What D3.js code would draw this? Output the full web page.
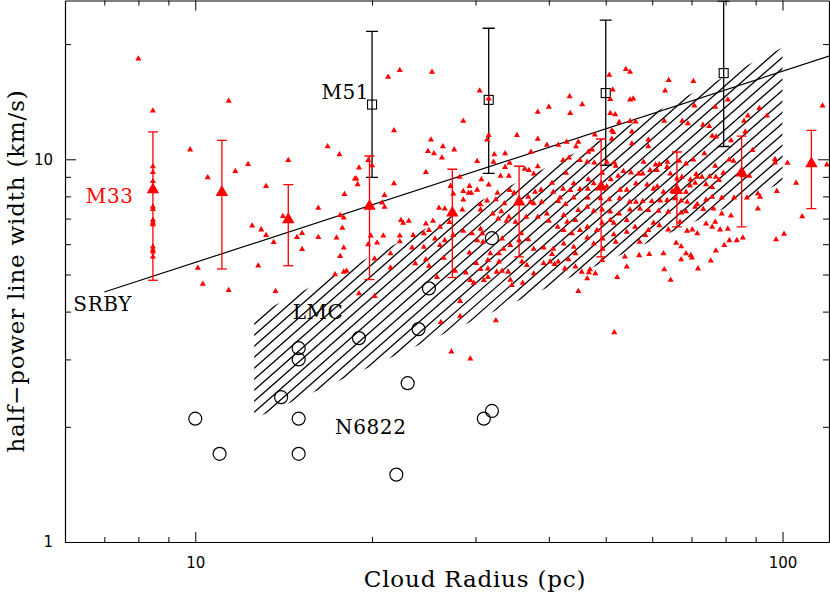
<!DOCTYPE html>
<html>
<head>
<meta charset="utf-8">
<script src="https://cdn.jsdelivr.net/npm/d3@7"></script>
<style>
	body { margin: 0; background: #fff; }
	svg { display: block; }
</style>
</head>
<body>
<div id="chart"></div>
<script>
// M33 GMCs: [radius (pc), half-power line width (km/s)]
const m33Clouds = [
	[8.0,18.3],[11.4,14.2],[9.8,10.6],[12.3,9.7],[11.7,9.3],[10.5,8.96],[13.2,8.5],[14.4,9.95],[14.1,7.1],[12.5,6.7],
	[12.95,6.55],[13.2,6.33],[13.6,6.07],[14.9,6.26],[15.2,6.41],[15.2,5.82],[16.2,6.26],[16.2,7.46],[10.1,5.2],[12.8,5.27],
	[10.3,4.72],[11.4,4.55],[13.7,4.52],
	[8.47,13.4],[8.47,9.58],[8.47,9.25],[8.47,8.76],[8.47,7.52],[8.47,7.4],[8.47,6.94],[8.47,6.83],[8.47,6.76],[8.47,5.91],
	[8.47,5.80],[8.47,5.73],[8.47,5.56],
	[22.3,17.1],[25.3,16.9],[21.3,16.4],[30.5,15.1],[31.6,14.4],[28.6,12.6],[21.8,11.9],[38.3,13.3],[40.0,13.7],[35.3,11.55],
	[31.6,11.55],[31.4,11.25],[25.2,11.25],[38.3,11.3],[16.8,10.8],[17.6,10.3],[24.9,10.5],[25.5,10.35],[26.4,10.8],[26.3,10.1],
	[27.6,10.6],[32.3,10.3],[33.7,10.35],[37.3,10.45],[39.7,10.9],[41.5,10.9],[19.7,9.94],[20.0,9.64],[19.0,9.5],[24.7,9.25],
	[30.2,9.88],[32.2,9.84],[34.3,9.78],[33.7,9.54],[33.1,9.04],[34.2,9.04],[36.4,9.44],[37.0,9.36],[38.3,9.58],[37.7,9.17],
	[18.7,8.9],[18.8,8.9],[18.9,8.6],[21.8,8.64],[28.2,8.99],[30.7,8.85],[31.6,8.58],[27.2,8.51],[28.6,8.25],[29.3,8.51],
	[29.2,8.17],[29.5,8.17],[30.2,8.32],[27.5,8.13],[17.95,8.1],[21.0,8.05],[28.6,7.84],[32.7,8.17],[32.5,7.85],[33.6,7.66],
	[31.4,7.79],[30.6,7.62],[34.3,8.3],[34.9,8.17],[37.2,7.74],[36.9,7.97],[37.7,7.66],[37.9,8.22],[38.8,8.32],[38.9,7.74],
	[40.5,8.67],[40.7,8.22],[41.5,7.77],[20.8,7.7],[21.0,7.51],[17.65,7.14],[17.9,7.04],[26.0,7.46],[26.6,7.43],[28.5,7.38],
	[30.6,7.38],[32.1,7.21],[33.2,7.31],[34.2,7.07],[32.8,6.99],[33.9,6.9],[35.1,6.86],[36.6,7.07],[38.3,7.07],[39.7,7.21],
	[40.0,6.9],[41.4,6.65],[22.4,6.93],[22.6,6.82],[23.1,6.9],[25.4,6.9],[24.7,6.79],[26.1,6.65],[25.0,6.53],[27.1,6.85],
	[17.8,6.61],[17.4,6.24],[19.9,6.31],[20.9,6.31],[22.3,6.31],[22.3,6.1],[23.5,6.33],[24.5,6.4],[25.6,6.2],[26.6,6.14],
	[27.5,6.33],[28.6,6.5],[29.6,6.4],[30.6,6.58],[30.8,6.4],[30.2,6.14],[30.9,6.08],[33.3,6.2],[34.4,5.96],[35.9,6.4],
	[35.6,6.14],[36.9,6.17],[37.7,5.83],[39.2,5.87],[40.7,5.83],[17.9,5.87],[19.7,5.99],[20.4,6.05],[23.4,5.87],[24.5,5.9],
	[26.1,5.96],[17.65,5.58],[20.2,5.5],[21.5,5.67],[26.5,5.52],[25.0,5.26],[23.7,5.34],[29.3,5.7],[31.8,5.67],[32.9,5.67],
	[33.5,5.83],[36.0,5.4],[36.7,5.29],[39.2,5.35],[40.2,5.4],[31.5,5.45],[30.1,5.35],[31.5,5.18],[32.6,5.08],[34.1,5.08],
	[37.7,5.03],[21.5,5.21],[27.7,5.11],[28.9,5.05],[17.3,5.0],[17.9,5.08],[18.1,5.11],[29.4,4.83],[29.8,4.75],[31.0,4.83],
	[31.5,4.92],[34.6,4.69],[36.1,4.75],[25.8,4.92],[19.0,4.46],[20.2,4.39],
	[24.7,5.47],[28.25,4.26],[28.25,3.89],[26.2,3.75],[32.5,3.79],[27.3,3.14],[29.4,3.01],[34.4,4.84],[40.5,5.65],[40.9,5.32],
	[41.5,5.4],[30.6,5.16],[33.3,5.11],[32.9,5.4],
	[54.1,17.2],[55.0,16.9],[50.7,16.6],[64.0,16.1],[70.5,16.0],[43.4,14.6],[51.4,15.2],[63.1,15.1],[50.9,14.35],[55.0,14.3],
	[55.7,14.4],[45.6,13.9],[80.7,14.3],[43.5,13.2],[70.8,13.8],[76.8,13.7],[91.3,13.6],[117,13.8],[50.9,13.2],[51.9,13.1],
	[62.9,12.6],[87.3,13.0],[94.1,13.0],[86.0,12.6],[67.5,12.6],[69.0,12.4],[55.0,12.58],[56.2,12.54],[52.7,12.5],[73.2,12.3],
	[75.0,12.2],[47.9,11.6],[51.2,11.9],[51.5,11.77],[51.2,11.3],[55.4,11.8],[75.9,11.5],[77.1,11.46],[81.7,11.2],[86.4,11.8],
	[88.9,10.56],[97.1,10.0],[97.1,9.8],[102,9.78],[119,9.68],[42.9,11.1],[44.5,10.8],[44.9,11.1],[46.7,10.45],[47.4,10.6],
	[43.3,10.1],[42.3,9.94],[55.4,11.0],[59.1,10.8],[59.1,11.25],[73.6,10.35],[70.5,9.97],[68.5,9.74],[66.7,9.9],[63.7,9.84],
	[61.7,9.7],[60.8,9.68],[58.0,9.84],[51.7,9.8],[52.0,9.6],[50.2,9.84],[47.8,9.8],[46.5,9.84],[45.2,9.94],[76.8,9.6],
	[81.1,9.98],[82.5,9.9],[77.0,8.99],[79.3,9.21],[75.1,9.02],[72.9,8.99],[71.3,9.14],[69.7,8.84],[67.4,8.99],[66.1,8.9],
	[64.4,9.17],[63.6,9.54],[61.1,9.36],[59.5,9.36],[57.8,9.17],[56.9,9.17],[55.2,9.23],[53.6,9.3],[52.5,9.04],[51.0,8.86],
	[49.3,9.21],[47.7,8.64],[46.7,8.86],[44.1,8.64],[42.8,9.21],[42.3,8.37],[43.5,8.3],[45.2,8.35],[46.6,8.37],[50.2,8.49],
	[52.9,8.32],[54.3,8.32],[56.3,8.64],[58.8,8.58],[60.3,8.37],[61.2,8.49],[62.7,8.22],[64.9,8.25],[68.5,8.22],[69.6,8.53],
	[71.0,8.67],[71.6,8.99],[74.1,8.6],[75.9,8.45],[78.0,8.81],[87.8,9.04],[85.5,9.07],[105.5,8.67],[97.8,8.25],[90.8,8.13],
	[91.6,7.97],[87.0,7.94],[82.7,7.94],[78.8,7.94],[75.9,7.97],[74.1,7.84],[71.6,7.63],[68.8,7.73],[67.2,7.79],[65.6,7.9],
	[63.6,7.82],[61.9,7.79],[59.9,7.77],[57.8,7.77],[56.3,7.73],[54.9,7.74],[52.8,7.9],[50.7,7.85],[49.0,7.9],[46.6,7.94],
	[44.1,7.94],[41.8,7.94],[42.7,7.63],[44.9,7.36],[46.5,7.51],[47.7,7.33],[49.3,7.38],[50.9,7.29],[52.7,7.21],[55.0,7.38],
	[57.2,7.43],[59.1,7.36],[61.5,7.33],[63.9,7.29],[67.2,7.25],[68.5,7.31],[71.0,7.51],[73.3,7.41],[76.3,7.43],[78.8,7.21],
	[81.7,7.12],[90.8,7.43],[108,7.09],[42.4,7.14],[43.0,6.86],[44.4,6.93],[46.5,6.65],[48.3,6.53],[50.9,6.93],[51.6,6.82],
	[49.3,6.82],[54.3,6.93],[56.1,6.65],[59.1,6.53],[60.3,6.82],[61.7,6.72],[63.9,6.55],[66.9,6.86],[68.8,6.5],[70.2,6.55],
	[71.6,6.4],[74.1,6.79],[75.9,6.65],[76.8,6.86],[78.3,6.55],[80.7,6.58],[83.6,6.14],[85.6,6.24],[77.0,5.77],[79.6,5.96],
	[81.2,6.14],[97.5,6.17],[100.6,6.38],[42.4,6.53],[43.8,6.4],[45.2,6.53],[46.5,6.24],[47.7,6.02],[49.4,6.2],[49.4,5.83],
	[51.6,6.36],[52.0,6.08],[54.3,6.46],[57.1,6.08],[58.4,6.33],[59.3,5.65],[62.7,5.67],[65.9,6.04],[67.2,5.92],[68.5,5.67],
	[69.8,5.61],[70.1,5.53],[71.8,5.18],[75.5,5.43],[67.2,5.47],[64.5,4.84],[62.9,5.15],[57.0,5.61],[54.3,5.24],[53.9,5.56],
	[52.3,4.92],[48.0,5.03],[46.5,4.88],[47.0,5.15],[45.5,5.08],[44.4,5.24],[42.6,5.18],[43.2,5.47],[44.4,5.67],[44.1,5.9],
	[42.4,6.02],[44.9,4.52],[49.3,5.45],[51.7,3.53],[46.8,5.06]
];

// M33 binned means with spread
const m33BinRadius = [8.47, 11.1, 14.4, 19.8, 27.4, 35.6, 49.1, 66.1, 85.2, 112];
const m33BinWidth = [8.33, 8.20, 6.96, 7.54, 7.24, 7.74, 8.47, 8.30, 9.21, 9.74];
const m33BinHigh = [11.8, 11.2, 8.59, 10.2, 9.42, 9.59, 11.3, 10.45, 11.5, 11.9];
const m33BinLow = [4.83, 5.17, 5.27, 4.85, 4.91, 5.56, 5.56, 6.66, 6.66, 7.43];

// M51
const m51Radius = [20.0, 31.6, 50.0, 79.4];
const m51Width = [13.9, 14.3, 14.9, 16.8];
const m51High = [21.6, 22.0, 23.1, 25.9];
const m51Low = [8.97, 9.19, 9.65, 10.8];

// LMC and N6822 clouds (open circles)
const circleRadius = [10.0, 11.0, 14.0, 15.0, 15.0, 15.0, 15.0, 19.0, 25.0, 24.0, 23.0, 32.0, 31.0, 22.0, 32.0];
const circleWidth = [2.1, 1.7, 2.39, 3.21, 3.0, 2.1, 1.7, 3.41, 4.6, 3.6, 2.6, 2.2, 2.1, 1.5, 6.22];

// hatched Galactic band, corners at both radius limits
const bandRadius = [12.6, 100];
const bandLower = [2.1, 8.7];
const bandUpper = [3.9, 19.6];

// SRBY relation end points
const srbyRadius = [7, 120];
const srbyWidth = [4.5, 18.6];

const xTicks = [7, 8, 9, 10, 20, 30, 40, 50, 60, 70, 80, 90, 100];
const xLabels = [10, 100];
const yTicks = [1, 2, 3, 4, 5, 6, 7, 8, 9, 10, 20];
const yLabels = [1, 10];

const width = 830;
const height = 592;
const plotLeft = 65, plotRight = 829, plotTop = 0.5, plotBottom = 542;
const serif = "'DejaVu Serif', serif";
const sans = "'DejaVu Sans', sans-serif";

var x = d3.scaleLog().domain([6, 120]).range([plotLeft, plotRight]);
var y = d3.scaleLog().domain([1, 26]).range([plotBottom, plotTop]);

var svg = d3.select("#chart")
	.append("svg")
	.attr("width", width)
	.attr("height", height);

var defs = svg.append("defs");
defs.append("clipPath")
	.attr("id", "plot-clip")
	.append("rect")
	.attr("x", plotLeft)
	.attr("y", plotTop)
	.attr("width", plotRight - plotLeft)
	.attr("height", plotBottom - plotTop);

var band = [
	[bandRadius[0], bandLower[0]],
	[bandRadius[1], bandLower[1]],
	[bandRadius[1], bandUpper[1]],
	[bandRadius[0], bandUpper[0]]
];
defs.append("clipPath")
	.attr("id", "band-clip")
	.append("polygon")
	.attr("points", band.map((d) => x(d[0]) + "," + y(d[1])).join(" "));

// hatching (pixel-space diagonal lines clipped to the band)
var hatchSlope = 0.88, hatchGap = 11;
var hx0 = x(bandRadius[0]) - 2, hx1 = x(bandRadius[1]) + 2;
var hatch = [];
for (var c = 734.8 - 50 * hatchGap; c < 1300; c += hatchGap) hatch.push(c);
svg.append("g")
	.attr("clip-path", "url(#band-clip)")
	.selectAll("line")
	.data(hatch)
	.enter()
	.append("line")
	.attr("x1", hx0)
	.attr("y1", (c) => c - hatchSlope * hx0)
	.attr("x2", hx1)
	.attr("y2", (c) => c - hatchSlope * hx1)
	.attr("stroke", "black")
	.attr("stroke-width", 1.3);

var plot = svg.append("g").attr("clip-path", "url(#plot-clip)");

// SRBY line
plot.append("line")
	.attr("x1", x(srbyRadius[0]))
	.attr("y1", y(srbyWidth[0]))
	.attr("x2", x(srbyRadius[1]))
	.attr("y2", y(srbyWidth[1]))
	.attr("stroke", "black")
	.attr("stroke-width", 1.2);

// open circles
plot.selectAll(".cloud-circle")
	.data(circleRadius)
	.enter()
	.append("circle")
	.attr("class", "cloud-circle")
	.attr("cx", (d) => x(d))
	.attr("cy", (d, i) => y(circleWidth[i]))
	.attr("r", 6.5)
	.attr("fill", "none")
	.attr("stroke", "black")
	.attr("stroke-width", 1.2);

// M51 error bars and squares
var m51 = plot.selectAll(".m51")
	.data(m51Radius)
	.enter()
	.append("g")
	.attr("class", "m51")
	.attr("stroke", "black")
	.attr("stroke-width", 1.3)
	.attr("fill", "none");
m51.append("line")
	.attr("x1", (d) => x(d)).attr("x2", (d) => x(d))
	.attr("y1", (d, i) => y(m51High[i])).attr("y2", (d, i) => y(m51Low[i]));
m51.append("line")
	.attr("x1", (d) => x(d) - 6).attr("x2", (d) => x(d) + 6)
	.attr("y1", (d, i) => y(m51High[i])).attr("y2", (d, i) => y(m51High[i]));
m51.append("line")
	.attr("x1", (d) => x(d) - 6).attr("x2", (d) => x(d) + 6)
	.attr("y1", (d, i) => y(m51Low[i])).attr("y2", (d, i) => y(m51Low[i]));
m51.append("rect")
	.attr("x", (d) => x(d) - 4.5)
	.attr("y", (d, i) => y(m51Width[i]) - 4.5)
	.attr("width", 9)
	.attr("height", 9)
	.attr("stroke-width", 1.1);

// small M33 triangles
var smallTri = d3.symbol().type(d3.symbolTriangle).size(16);
plot.selectAll(".m33")
	.data(m33Clouds)
	.enter()
	.append("path")
	.attr("class", "m33")
	.attr("d", smallTri)
	.attr("transform", (d) => `translate(${x(d[0])},${y(d[1])})`)
	.attr("fill", "red");

// binned M33 means
var bins = plot.selectAll(".m33-bin")
	.data(m33BinRadius)
	.enter()
	.append("g")
	.attr("class", "m33-bin")
	.attr("stroke", "red")
	.attr("stroke-width", 1.3);
bins.append("line")
	.attr("x1", (d) => x(d)).attr("x2", (d) => x(d))
	.attr("y1", (d, i) => y(m33BinHigh[i])).attr("y2", (d, i) => y(m33BinLow[i]));
bins.append("line")
	.attr("x1", (d) => x(d) - 5).attr("x2", (d) => x(d) + 5)
	.attr("y1", (d, i) => y(m33BinHigh[i])).attr("y2", (d, i) => y(m33BinHigh[i]));
bins.append("line")
	.attr("x1", (d) => x(d) - 5).attr("x2", (d) => x(d) + 5)
	.attr("y1", (d, i) => y(m33BinLow[i])).attr("y2", (d, i) => y(m33BinLow[i]));
bins.append("path")
	.attr("d", d3.symbol().type(d3.symbolTriangle).size(68))
	.attr("transform", (d, i) => `translate(${x(d)},${y(m33BinWidth[i])})`)
	.attr("fill", "red")
	.attr("stroke", "none");

// axes
function styleAxis(g) {
	g.select(".domain").attr("stroke", "black").attr("stroke-width", 1.2);
	g.selectAll(".tick line").attr("stroke", "black").attr("stroke-width", 1);
	g.selectAll(".tick text")
		.attr("fill", "black")
		.style("font-family", sans)
		.style("font-size", "15px");
}

var xFmt = (d) => (xLabels.includes(d) ? d : "");
var yFmt = (d) => (yLabels.includes(d) ? d : "");

var gx = svg.append("g")
	.attr("transform", `translate(0,${plotBottom})`)
	.call(d3.axisBottom(x).tickValues(xTicks).tickFormat(xFmt).tickSize(-5).tickSizeOuter(0).tickPadding(15))
	.call(styleAxis);
gx.selectAll(".tick").filter((d) => xLabels.includes(d)).select("line").attr("y2", -10);

var gxt = svg.append("g")
	.attr("transform", `translate(0,${plotTop})`)
	.call(d3.axisTop(x).tickValues(xTicks).tickFormat("").tickSize(-5).tickSizeOuter(0))
	.call(styleAxis);
gxt.selectAll(".tick").filter((d) => xLabels.includes(d)).select("line").attr("y2", 10);

var gy = svg.append("g")
	.attr("transform", `translate(${plotLeft},0)`)
	.call(d3.axisLeft(y).tickValues(yTicks).tickFormat(yFmt).tickSize(-6).tickSizeOuter(0).tickPadding(12))
	.call(styleAxis);
gy.selectAll(".tick").filter((d) => yLabels.includes(d)).select("line").attr("x2", 11);

var gyr = svg.append("g")
	.attr("transform", `translate(${plotRight},0)`)
	.call(d3.axisRight(y).tickValues(yTicks).tickFormat("").tickSize(-6).tickSizeOuter(0))
	.call(styleAxis);
gyr.selectAll(".tick").filter((d) => yLabels.includes(d)).select("line").attr("x2", -11);

// axis titles
svg.append("text")
	.attr("x", 475)
	.attr("y", 587)
	.attr("text-anchor", "middle")
	.style("font-family", serif)
	.style("font-size", "23px")
	.style("letter-spacing", "0.8px")
	.text("Cloud Radius (pc)");

svg.append("text")
	.attr("transform", "translate(24,271) rotate(-90)")
	.attr("text-anchor", "middle")
	.style("font-family", serif)
	.style("font-size", "23px")
	.style("letter-spacing", "0.8px")
	.text("half\u2212power line width (km/s)");

// annotations
function note(txt, r, v, colour) {
	svg.append("text")
		.attr("x", x(r))
		.attr("y", y(v))
		.attr("fill", colour)
		.style("font-family", serif)
		.style("font-size", "20px")
		.style("letter-spacing", "0.6px")
		.text(txt);
}
note("M33", 6.51, 7.70, "red");
note("M51", 16.4, 14.4, "black");
note("SRBY", 6.2, 4.01, "black");
note("LMC", 14.65, 3.82, "black");
note("N6822", 17.3, 1.915, "black");
</script>
</body>
</html>
